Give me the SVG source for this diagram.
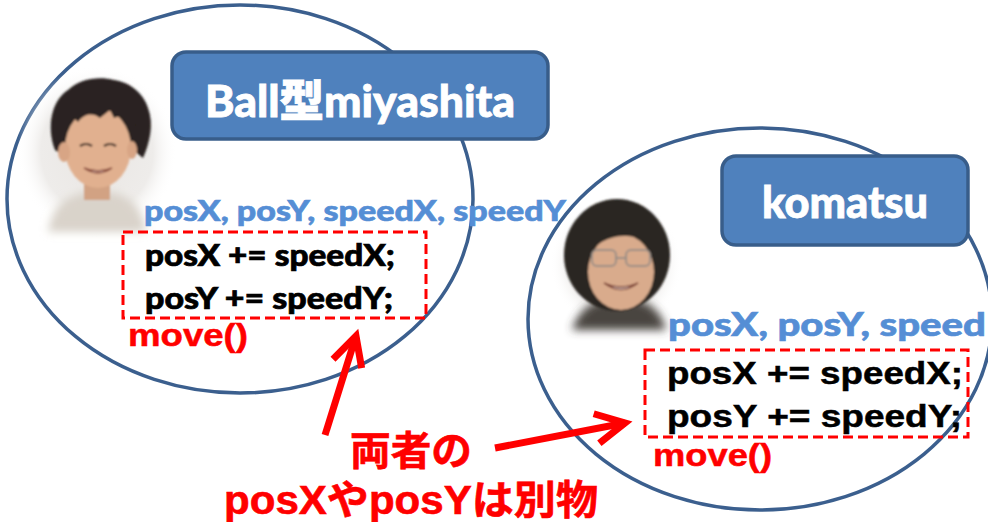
<svg xmlns="http://www.w3.org/2000/svg" width="988" height="522" viewBox="0 0 988 522">
  <style>
    .ell { fill: none; stroke: #3B5F8E; stroke-width: 3.5; }
    .box { fill: #4F81BD; stroke: #385D8A; stroke-width: 3.5; }
    .title { font-family: "Lato", "Noto Sans CJK JP", sans-serif; font-weight: 900; fill: #FFFFFF; stroke: #FFFFFF; stroke-width: 0.8; }
    .vars { font-family: "Lato", "Noto Sans CJK JP", sans-serif; font-weight: 900; fill: #558ED5; stroke: #558ED5; stroke-width: 0.6; }
    .code { font-family: "Lato", "Liberation Sans", sans-serif; font-weight: 900; fill: #000000; stroke: #000000; stroke-width: 0.7; }
    .codeR { font-family: "Liberation Sans", "Lato", sans-serif; font-weight: bold; fill: #000000; stroke: #000000; stroke-width: 0.5; }
    .fn { font-family: "Liberation Sans", sans-serif; font-weight: bold; fill: #FF0000; stroke: #FF0000; stroke-width: 0.5; }
    .dash { fill: none; stroke: #FF0000; stroke-width: 3; stroke-dasharray: 10 5; }
    .note { font-family: "Liberation Sans", "Noto Sans CJK JP", sans-serif; font-weight: bold; fill: #FF0000; stroke: #FF0000; stroke-width: 0.6; }
    .arrow { fill: none; stroke: #FF0000; stroke-width: 7; marker-end: url(#chev); }
  </style>
  <defs>
    <marker id="chev" markerUnits="userSpaceOnUse" markerWidth="40" markerHeight="40" viewBox="-34 -20 40 40" refX="0" refY="0" orient="auto" overflow="visible">
      <path d="M -29 -15 L 0 0 L -29 15" fill="none" stroke="#FF0000" stroke-width="7" stroke-linejoin="miter"/>
    </marker>
    <radialGradient id="vig" cx="0.5" cy="0.5" r="0.5">
      <stop offset="0" stop-color="#e9e6e3"/>
      <stop offset="0.7" stop-color="#eeecea"/>
      <stop offset="1" stop-color="#ffffff" stop-opacity="0"/>
    </radialGradient>
    <filter id="soft" x="-20%" y="-20%" width="140%" height="140%">
      <feGaussianBlur stdDeviation="1.2"/>
    </filter>
    <filter id="softer" x="-30%" y="-30%" width="160%" height="160%">
      <feGaussianBlur stdDeviation="4"/>
    </filter>
  </defs>

  <rect x="0" y="0" width="988" height="522" fill="#FFFFFF"/>

  <!-- miyashita ball -->
  <g id="ball-miyashita">
    <ellipse class="ell" cx="240" cy="199" rx="233" ry="194"/>
    <g id="photo-miyashita">
      <ellipse cx="97" cy="152" rx="80" ry="86" fill="url(#vig)"/>
      <g filter="url(#soft)">
        <path d="M 48 232 C 52 205 68 196 85 192 L 112 192 C 128 196 142 205 146 232 Z" fill="#d9d3ca" filter="url(#softer)"/>
        <rect x="84" y="175" width="26" height="25" fill="#d2a283"/>
        <path d="M 55 150 C 46 126 52 100 68 90 C 80 78 100 76 114 80 C 130 82 144 94 148 108 C 154 124 150 142 143 158 L 133 150 L 62 155 Z" fill="#2a2420"/>
        <ellipse cx="98" cy="148" rx="33" ry="40" fill="#e1b08f"/>
        <ellipse cx="64" cy="152" rx="6" ry="10" fill="#d8a585"/>
        <ellipse cx="132" cy="150" rx="5" ry="9" fill="#d8a585"/>
        <path d="M 62 132 C 66 108 80 98 100 100 C 118 98 132 108 138 128 C 130 120 122 114 114 118 L 110 110 L 100 118 C 92 112 84 114 78 122 L 72 116 Z" fill="#2a2420"/>
        <path d="M 80 146 Q 86 142 92 146" stroke="#3a2a20" stroke-width="2.2" fill="none"/>
        <path d="M 104 146 Q 110 142 116 146" stroke="#3a2a20" stroke-width="2.2" fill="none"/>
        <path d="M 84 168 Q 98 178 112 168 Q 98 174 84 168 Z" fill="#f4ece6" stroke="#8a4a3a" stroke-width="1.5"/>
      </g>
    </g>
    <rect class="box" x="172" y="52" width="376" height="87" rx="14"/>
    <text class="title" x="205" y="117" font-size="44" textLength="310" lengthAdjust="spacingAndGlyphs">Ball型miyashita</text>
    <text class="vars" x="144" y="221" font-size="28" textLength="422" lengthAdjust="spacingAndGlyphs">posX, posY, speedX, speedY</text>
    <rect class="dash" x="123" y="232" width="303" height="86"/>
    <text class="code" x="145" y="266" font-size="31" textLength="250" lengthAdjust="spacingAndGlyphs">posX += speedX;</text>
    <text class="code" x="145" y="309" font-size="31" textLength="248" lengthAdjust="spacingAndGlyphs">posY += speedY;</text>
    <text class="fn" x="128" y="346" font-size="31" textLength="120" lengthAdjust="spacingAndGlyphs">move()</text>
  </g>

  <!-- komatsu ball -->
  <g id="ball-komatsu">
    <ellipse class="ell" cx="760" cy="319" rx="232" ry="191"/>
    <g id="photo-komatsu">
      <circle cx="616" cy="264" r="66" fill="url(#vig)"/>
      <g filter="url(#soft)">
        <path d="M 572 330 C 580 305 598 298 620 298 C 642 298 660 305 666 330 Z" fill="#4a4540" filter="url(#softer)"/>
        <ellipse cx="617" cy="255" rx="53" ry="56" fill="#2b2622"/>
        <ellipse cx="621" cy="272" rx="33" ry="38" fill="#d9ab8c"/>
        <path d="M 580 262 C 582 226 600 214 622 214 C 646 214 660 230 660 260 C 652 240 640 236 624 236 C 608 236 594 244 580 262 Z" fill="#2b2622"/>
        <rect x="592" y="250" width="24" height="16" rx="5" fill="none" stroke="#9a8e86" stroke-width="2"/>
        <rect x="626" y="250" width="24" height="16" rx="5" fill="none" stroke="#9a8e86" stroke-width="2"/>
        <path d="M 616 258 L 626 258" stroke="#9a8e86" stroke-width="2"/>
        <path d="M 604 283 Q 621 296 638 283 Q 621 291 604 283 Z" fill="#f4ece6" stroke="#7a3e30" stroke-width="1.5"/>
      </g>
    </g>
    <rect class="box" x="722" y="156" width="246" height="89" rx="14"/>
    <text class="title" x="762" y="218" font-size="44" textLength="166" lengthAdjust="spacingAndGlyphs">komatsu</text>
    <text class="vars" x="668" y="336" font-size="32" textLength="318" lengthAdjust="spacingAndGlyphs">posX, posY, speed</text>
    <rect class="dash" x="645" y="350" width="323" height="87"/>
    <text class="codeR" x="667" y="384" font-size="32" textLength="296" lengthAdjust="spacingAndGlyphs">posX += speedX;</text>
    <text class="codeR" x="667" y="427" font-size="32" textLength="295" lengthAdjust="spacingAndGlyphs">posY += speedY;</text>
    <text class="fn" x="653" y="466" font-size="31" textLength="119" lengthAdjust="spacingAndGlyphs">move()</text>
  </g>

  <!-- connectors -->
  <g id="connectors">
    <line class="arrow" x1="325" y1="435" x2="356" y2="336"/>
    <line class="arrow" x1="495" y1="448" x2="625" y2="423"/>
  </g>

  <g id="note">
    <text class="note" x="350" y="465" font-size="40" textLength="122" lengthAdjust="spacingAndGlyphs">両者の</text>
    <text class="note" x="224" y="514" font-size="40" textLength="374" lengthAdjust="spacingAndGlyphs">posXやposYは別物</text>
  </g>
</svg>
